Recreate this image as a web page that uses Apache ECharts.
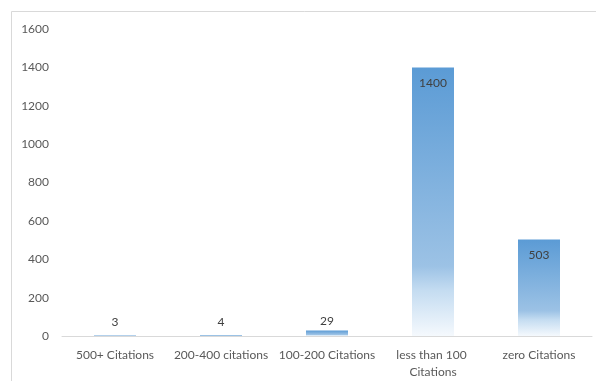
<!DOCTYPE html>
<html>
<head>
<meta charset="utf-8">
<script src="https://cdn.jsdelivr.net/npm/echarts@6/dist/echarts.min.js"></script>
<style>
  html, body { margin: 0; padding: 0; background: #fff; }
  #chart { width: 596px; height: 381px; }
</style>
</head>
<body>
<div id="chart"></div>
<script>
// Citation buckets and the number of papers in each
const categories = ['500+ Citations', '200-400 citations', '100-200 Citations', 'less than 100 Citations', 'zero Citations'];
const counts = [3, 4, 29, 1400, 503];
const yTicks = { min: 0, max: 1600, interval: 200 };

const FONT = 'Lato, "Open Sans", sans-serif';

// Tall bars carry their label inside the top; short bars put it above
const barData = counts.map(v => ({
  value: v,
  label: v > 200
    ? { position: 'insideTop', distance: 10 }
    : { position: 'top', distance: v < 10 ? 7 : 3 }
}));

const fill = {
  type: 'linear', x: 0, y: 0, x2: 0, y2: 1,
  colorStops: [
    { offset: 0, color: '#5b9bd5' },
    { offset: 0.74, color: '#9cc2e5' },
    { offset: 0.83, color: '#c4dcf1' },
    { offset: 1, color: '#f5f9fd' }
  ]
};

const chart = echarts.init(document.getElementById('chart'), null, { renderer: 'canvas' });
chart.setOption({
  animation: false,
  backgroundColor: '#fff',
  graphic: [{
    type: 'rect',
    shape: { x: 11.5, y: 11.5, width: 700, height: 500 },
    style: { fill: 'none', stroke: '#d9d9d9', lineWidth: 1 },
    silent: true,
    z: -1
  }],
  grid: { left: 62, right: 4, top: 29, bottom: 44, containLabel: false },
  xAxis: {
    type: 'category',
    data: categories,
    axisLine: { lineStyle: { color: '#d9d9d9', width: 1 } },
    axisTick: { show: false },
    axisLabel: {
      color: '#595959',
      fontFamily: FONT,
      fontSize: 12,
      margin: 11,
      lineHeight: 17,
      interval: 0,
      width: 104,
      overflow: 'break'
    }
  },
  yAxis: {
    type: 'value',
    min: yTicks.min,
    max: yTicks.max,
    interval: yTicks.interval,
    axisLine: { show: false },
    axisTick: { show: false },
    splitLine: { show: false },
    axisLabel: {
      color: '#595959',
      fontFamily: FONT,
      fontSize: 12,
      margin: 13,
      formatter: v => String(v)
    }
  },
  series: [{
    type: 'bar',
    data: barData,
    barWidth: 42,
    itemStyle: { color: fill },
    label: {
      show: true,
      color: '#404040',
      fontFamily: FONT,
      fontSize: 12
    }
  }]
});
</script>
</body>
</html>
